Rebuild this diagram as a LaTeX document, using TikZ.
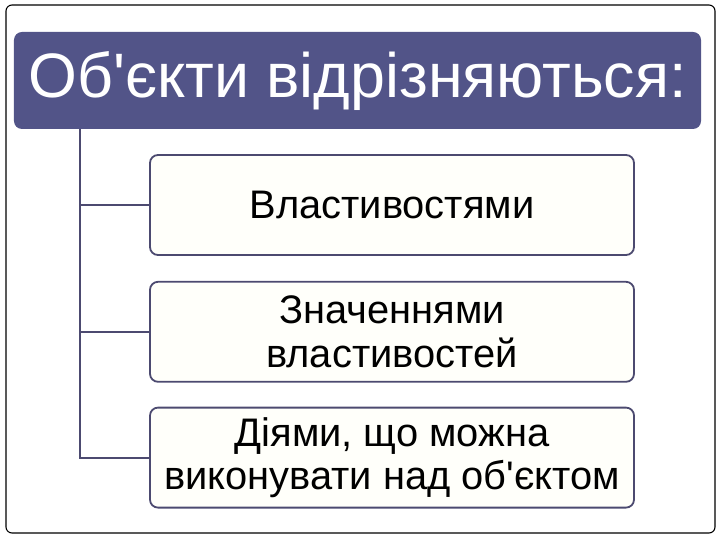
\documentclass[tikz,border=0pt]{standalone}
\usepackage{fontspec}
\setmainfont{Liberation Sans}[Ligatures=TeXOff]
\usepackage{xcolor}
\usetikzlibrary{positioning, calc}

\definecolor{titlefill}{HTML}{525488}
\definecolor{boxline}{HTML}{4C4A70}
\definecolor{boxfill}{HTML}{FFFFFA}

\begin{document}
\begin{tikzpicture}[
    x=1bp, y=-1bp,
    frame/.style={draw=black, line width=1.1bp, rounded corners=6bp},
    titlebox/.style={rectangle, rounded corners=8bp, fill=titlefill, text=white,
        minimum width=687bp, minimum height=97bp, inner sep=0pt, align=center,
        font=\fontsize{63}{70}\selectfont},
    itembox/.style={rectangle, rounded corners=8bp, draw=boxline, fill=boxfill, line width=1.8bp,
        minimum width=484bp, minimum height=100bp, inner sep=0pt, align=center,
        font=\fontsize{40}{43.5}\selectfont},
    conn/.style={draw=boxline, line width=1.8bp},
]
\useasboundingbox (0,0) rectangle (720,540);
\draw[frame] (6,5) rectangle (715,533);

\node[titlebox] (title) at (357.5,80.5) {Об'єкти відрізняються:};

\node[itembox] (b1) at (392,205) {Властивостями};
\node[itembox, below=25bp of b1] (b2) {Значеннями\\властивостей};
\node[itembox, below=24bp of b2] (b3) {Діями, що можна\\виконувати над об'єктом};

\coordinate (root) at ($(title.south west)+(66bp,0)$);
\draw[conn] (root) |- (b1.west);
\draw[conn] (root) |- (b2.west);
\draw[conn] (root) |- (b3.west);
\end{tikzpicture}
\end{document}
